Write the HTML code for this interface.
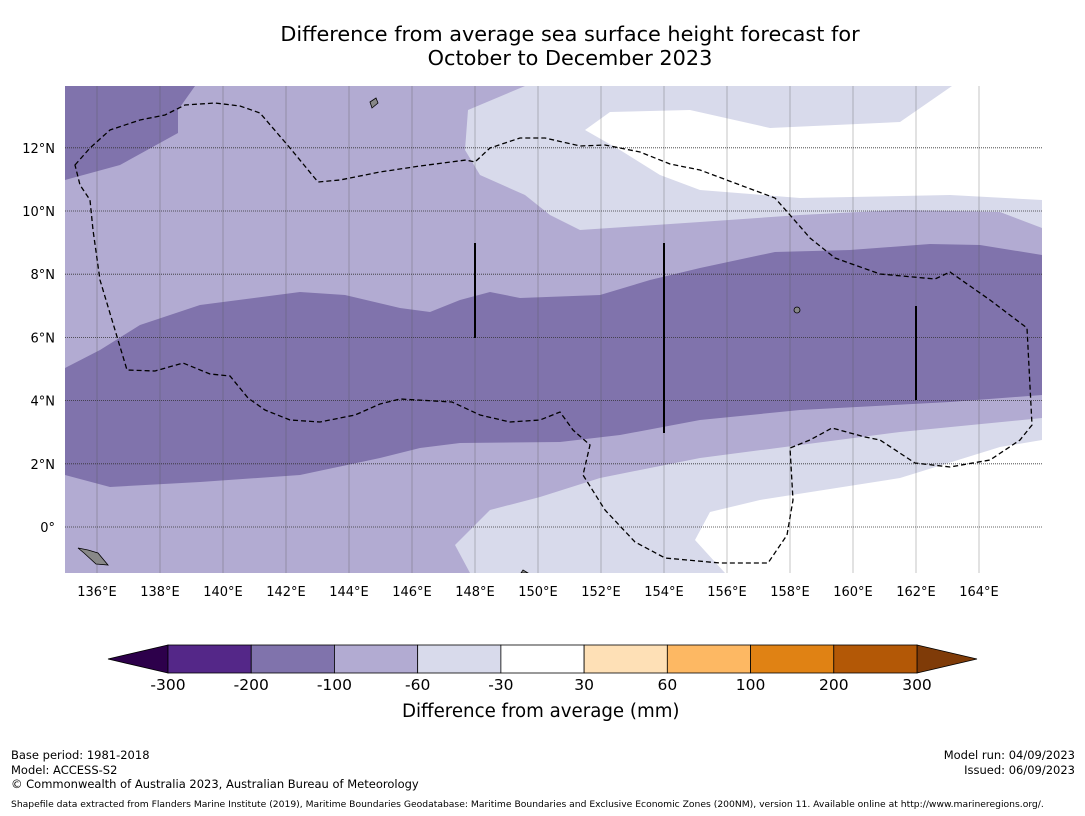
<!DOCTYPE html>
<html><head><meta charset="utf-8">
<style>
body{margin:0;background:#fff;font-family:"DejaVu Sans",sans-serif;}
#wrap{position:relative;width:1085px;height:816px;overflow:hidden;background:#fff}
.t{position:absolute;white-space:nowrap;color:#000}
</style></head>
<body>
<div id="wrap">
<div class="t" style="left:0;width:1140px;text-align:center;top:23px;font-size:20.8px;line-height:23.5px">Difference from average sea surface height forecast for<br>October to December 2023</div>
<svg id="map" width="1085" height="816" style="position:absolute;left:0;top:0">
<defs><clipPath id="mc"><rect x="65" y="86" width="977" height="487"/></clipPath></defs>
<g clip-path="url(#mc)">
<rect x="65" y="86" width="977" height="487" fill="#b2abd2"/>
<path fill="#8073ac" d="M65,86 L195,86 L178,110 L178,133 L120,165 L65,180Z"/>
<path fill="#d8daeb" d="M525,86 L1042,86 L1042,228 L1000,212 L900,210 L800,215 L700,222 L580,230 L550,215 L525,195 L480,175 L465,150 L468,110Z"/>
<path fill="#fff" d="M585,130 L610,112 L690,110 L770,128 L900,122 L952,86 L1042,86 L1042,200 L950,195 L800,198 L700,190 L660,175 L620,150Z"/>
<path fill="#8073ac" d="M65,368 L100,350 L140,325 L200,305 L300,292 L345,295 L400,308 L430,312 L460,300 L490,292 L520,298 L600,295 L650,280 L700,268 L775,252 L850,250 L930,244 L980,245 L1042,255 L1042,395 L950,402 L800,410 L700,420 L620,435 L560,442 L460,443 L420,448 L380,458 L300,475 L200,482 L110,487 L65,475Z"/>
<path fill="#d8daeb" d="M1042,418 L900,432 L800,445 L700,458 L600,478 L540,497 L490,510 L455,545 L470,573 L1042,573Z"/>
<path fill="#fff" d="M695,540 L710,512 L760,500 L900,478 L1000,447 L1042,440 L1042,573 L725,573Z"/>
<g id="grid"></g>
<path fill="none" stroke="#000" stroke-width="1.3" stroke-dasharray="5,3" d="M75,165 L90,148 L110,130 L140,120 L165,115 L185,105 L215,103 L240,106 L260,113 L290,148 L318,182 L340,180 L380,172 L420,166 L466,160 L475,162 L490,148 L520,138 L545,138 L580,146 L605,145 L640,152 L670,164 L700,170 L740,185 L775,198 L790,215 L810,238 L835,258 L880,274 L935,279 L950,272 L990,300 L1027,328 L1032,425 L1020,440 L990,460 L950,467 L915,463 L880,440 L865,437 L832,428 L810,440 L790,448 L793,500 L787,535 L768,563 L720,563 L665,558 L635,542 L605,510 L583,475 L590,445 L573,430 L560,412 L540,420 L510,422 L480,415 L452,402 L400,399 L380,404 L355,415 L320,422 L290,420 L265,410 L248,398 L230,376 L210,374 L183,363 L155,371 L127,370 L112,320 L100,280 L93,230 L90,200 L80,185Z"/>
<g stroke="#000" stroke-width="2">
<line x1="475" y1="243" x2="475" y2="338"/><line x1="664" y1="243" x2="664" y2="433"/><line x1="916" y1="306" x2="916" y2="400"/>
</g>
<g fill="#888" stroke="#000" stroke-width="0.8">
<path d="M370,102 L376,98 L378,103 L372,108Z"/><path d="M78,548 L88,550 L98,553 L108,565 L96,564 L84,553Z"/><circle cx="797" cy="310" r="3"/><path d="M523,570 L528,573 L521,573Z"/>
</g>
</g>
<g id="labels"></g>
<g id="cbar"></g>
</svg>
<div class="t" style="left:402px;top:701px;font-size:18.2px">Difference from average (mm)</div>
<div class="t" style="left:11px;top:748px;font-size:11.5px;line-height:14.5px">Base period: 1981-2018<br>Model: ACCESS-S2<br>© Commonwealth of Australia 2023, Australian Bureau of Meteorology</div>
<div class="t" style="right:10px;top:748px;font-size:11.5px;line-height:14.5px;text-align:right">Model run: 04/09/2023<br>Issued: 06/09/2023</div>
<div class="t" style="left:11px;top:799px;font-size:9.2px">Shapefile data extracted from Flanders Marine Institute (2019), Maritime Boundaries Geodatabase: Maritime Boundaries and Exclusive Economic Zones (200NM), version 11. Available online at http://www.marineregions.org/.</div>
</div>
<script>
const lonTicks=[136,138,140,142,144,146,148,150,152,154,156,158,160,162,164];
const latTicks=[0,2,4,6,8,10,12];
const cbLevels=["-300","-200","-100","-60","-30","30","60","100","200","300"];
const cbColors=["#542788","#8073ac","#b2abd2","#d8daeb","#ffffff","#fee0b6","#fdb863","#e08214","#b35806"];
const NS="http://www.w3.org/2000/svg";
const xLon=l=>65.5+(l-135)*31.5;
const yLat=l=>527-l*31.6;
function mk(t,a,p){const e=document.createElementNS(NS,t);for(const k in a)e.setAttribute(k,a[k]);p.appendChild(e);return e;}
const grid=document.getElementById('grid'),lab=document.getElementById('labels');
lonTicks.forEach(l=>{const x=xLon(l);
const g=mk('line',{x1:x,x2:x,y1:86,y2:573,stroke:'#555','stroke-opacity':0.35,'stroke-width':1},grid);


const t=mk('text',{x:x,y:596,'font-size':13,'text-anchor':'middle','font-family':'DejaVu Sans'},lab);
t.textContent=l+'°E';

});
latTicks.forEach(l=>{const y=yLat(l);
const g=mk('line',{x1:65,x2:1042,y1:y,y2:y,stroke:'#333','stroke-dasharray':'1,1','stroke-width':0.8},grid);


const t=mk('text',{x:55,y:y+5,'font-size':13,'text-anchor':'end','font-family':'DejaVu Sans'},lab);
t.textContent=l===0?'0°':l+'°N';

});
const cb=document.getElementById('cbar');
const cx0=168,cx1=917,cy=645,ch=28,sw=(cx1-cx0)/cbColors.length;
const lt=mk('polygon',{points:`108,${cy+ch/2} ${cx0},${cy} ${cx0},${cy+ch}`,fill:'#2d004b',stroke:'#000','stroke-width':0.8},cb);


const rt=mk('polygon',{points:`977,${cy+ch/2} ${cx1},${cy} ${cx1},${cy+ch}`,fill:'#7f3b08',stroke:'#000','stroke-width':0.8},cb);


cbColors.forEach((c,i)=>{const r=mk('rect',{x:cx0+i*sw,y:cy,width:sw,height:ch,fill:c,stroke:'#000','stroke-width':0.8},cb);

});
cbLevels.forEach((s,i)=>{const t=mk('text',{x:cx0+i*sw,y:690,'font-size':15.5,'text-anchor':'middle','font-family':'DejaVu Sans'},cb);
t.textContent=s;

});
</script>
</body></html>
